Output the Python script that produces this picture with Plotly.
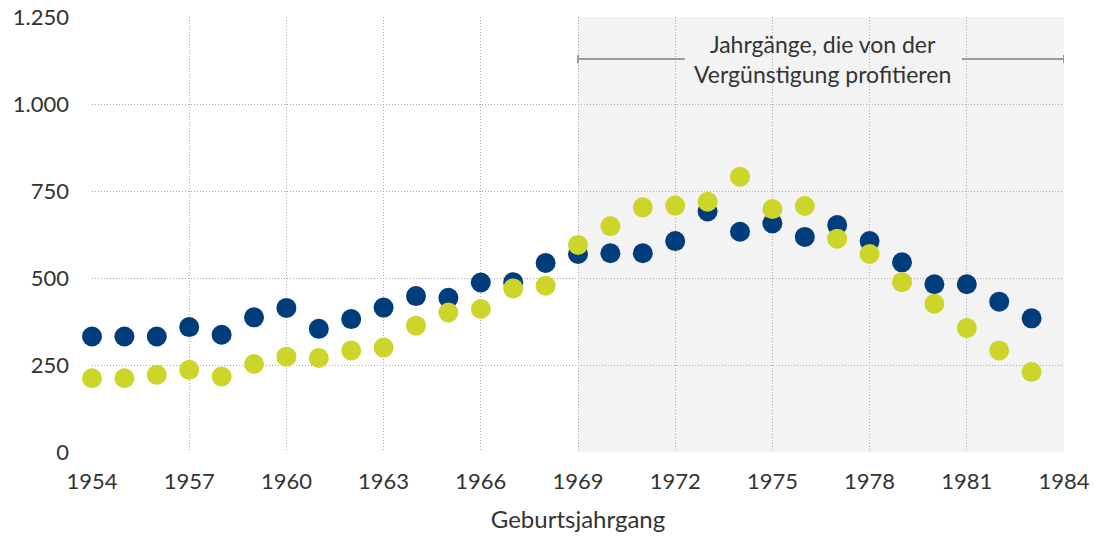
import plotly.graph_objects as go

years = list(range(1954, 1984))
blue_values = [332, 332, 332, 359, 337, 387, 414, 354, 382, 415,
               448, 443, 487, 488, 543, 569, 571, 571, 606, 691,
               633, 657, 618, 652, 606, 545, 482, 482, 432, 384]
green_values = [212, 212, 222, 236, 217, 253, 274, 270, 292, 300,
                363, 401, 411, 470, 478, 595, 649, 703, 708, 719,
                791, 698, 707, 613, 569, 488, 426, 356, 292, 230]

x_ticks = list(range(1954, 1985, 3))
y_ticks = [0, 250, 500, 750, 1000, 1250]
y_tick_labels = ["0", "250", "500", "750", "1.000", "1.250"]

highlight_start, highlight_end = 1969, 1984
bracket_level = 1129
annotation_text = "Jahrgänge, die von der<br>Vergünstigung profitieren"
x_title = "Geburtsjahrgang"

BLUE = "#003d7c"
GREEN = "#cdd52b"
GRID = "#ababab"
TEXT = "#333333"
FONT = "Lato, Open Sans, sans-serif"

fig = go.Figure()
fig.add_trace(go.Scatter(x=years, y=blue_values, mode="markers", cliponaxis=False,
                         marker=dict(color=BLUE, size=20, line=dict(width=0)),
                         showlegend=False, hoverinfo="x+y"))
fig.add_trace(go.Scatter(x=years, y=green_values, mode="markers", cliponaxis=False,
                         marker=dict(color=GREEN, size=20, line=dict(width=0)),
                         showlegend=False, hoverinfo="x+y"))

# shaded region
fig.add_shape(type="rect", xref="x", yref="y", x0=highlight_start, x1=highlight_end,
              y0=0, y1=1250, fillcolor="#f3f3f3", line=dict(width=0), layer="below")

# bracket
line_style = dict(color="#9a9a9a", width=2)
fig.add_shape(type="line", xref="x", yref="y", x0=highlight_start, x1=1972.3,
              y0=bracket_level, y1=bracket_level, line=line_style)
fig.add_shape(type="line", xref="x", yref="y", x0=1980.85, x1=highlight_end,
              y0=bracket_level, y1=bracket_level, line=line_style)
for xe in (highlight_start, highlight_end):
    fig.add_shape(type="line", xref="x", yref="y", x0=xe, x1=xe,
                  y0=bracket_level - 12, y1=bracket_level + 12, line=line_style)

fig.add_annotation(x=1976.55, y=bracket_level, xref="x", yref="y", text=annotation_text,
                   showarrow=False, font=dict(family=FONT, size=23, color=TEXT),
                   align="center", xanchor="center", yanchor="middle")

fig.update_xaxes(range=[1954, 1984], tickvals=x_ticks, ticktext=[str(t) for t in x_ticks],
                 showgrid=True, gridcolor=GRID, griddash="1px,2px", gridwidth=1,
                 zeroline=False, showline=False, ticks="", ticklabelstandoff=14,
                 tickfont=dict(family=FONT, size=22, color=TEXT),
                 title=dict(text=x_title, standoff=18,
                            font=dict(family=FONT, size=24, color=TEXT)))
fig.update_yaxes(range=[0, 1250], tickvals=y_ticks, ticktext=y_tick_labels,
                 showgrid=True, gridcolor=GRID, griddash="1px,2px", gridwidth=1,
                 zeroline=False, showline=False, ticks="", ticklabelstandoff=22,
                 tickfont=dict(family=FONT, size=22, color=TEXT))

fig.update_layout(width=1094, height=538, margin=dict(l=92, r=30, t=17, b=86, autoexpand=False),
                  plot_bgcolor="white", paper_bgcolor="white")

fig.write_html("out.html", config={"displayModeBar": False},
               post_script="document.body.style.margin='0';")
